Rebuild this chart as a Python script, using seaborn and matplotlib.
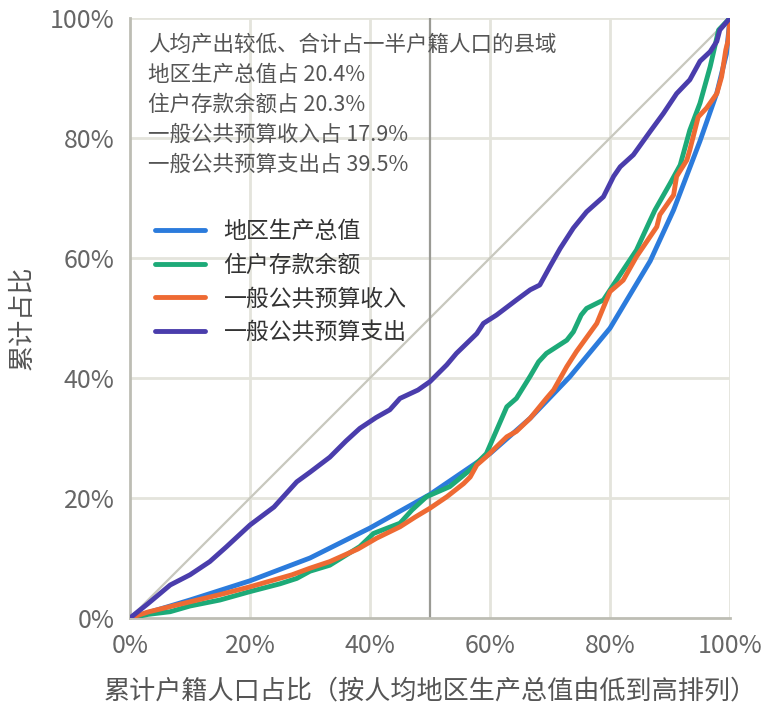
import numpy as np
import pandas as pd
import matplotlib
matplotlib.use("Agg")
import matplotlib.pyplot as plt
import seaborn as sns

# ---------------- data (percent) ----------------
series_names = ["地区生产总值", "住户存款余额", "一般公共预算收入", "一般公共预算支出"]

gdp_x = [0, 6.7, 10, 20, 30, 40, 50, 60, 66.7, 73.3, 80, 86.7, 90.6, 95, 97.8, 99.4, 100]
gdp_y = [0, 2.0, 3.0, 6.2, 10.0, 15.0, 20.6, 27.4, 33.3, 40.2, 48.3, 59.5, 68, 79.5, 87.5, 94.0, 100]

dep_x = [0, 3, 6.7, 10, 15, 20, 25, 27.8, 30, 33.3, 38.3, 40.6, 45, 47, 49.4, 53.3, 56.7, 59.4,
         62.8, 64.4, 66.7, 68.1, 69.4, 72.8, 73.9, 75.2, 76.1, 78.9, 82.2, 84.4, 86.7, 87.5, 90,
         91.7, 93.3, 95, 96.7, 98.1, 100]
dep_y = [0, 0.6, 1.05, 2.0, 3.0, 4.4, 5.7, 6.6, 7.8, 8.8, 11.9, 14.1, 15.8, 18.0, 20.2, 21.9, 24.7, 27.4,
         35.2, 36.6, 40.3, 42.7, 44.1, 46.3, 47.7, 50.5, 51.6, 53.0, 58, 61.3, 66.3, 68, 72.4,
         75.5, 81.3, 85.8, 91.9, 98, 100]

rev_x = [0, 3, 6.7, 10, 15, 20, 27, 30, 33.3, 38, 41.1, 45, 47.5, 50, 52.8, 55.6, 56.7, 57.8, 59.4,
         62.8, 64.4, 66.7, 69.4, 70.6, 72.8, 74.4, 77.8, 80, 82.2, 84.4, 87.8, 88.3, 90.6, 91.1,
         92.8, 93.3, 94.7, 96.1, 97.8, 98.6, 99.3, 99.7, 100]
rev_y = [0, 1.0, 1.9, 2.7, 3.9, 5.2, 7.2, 8.3, 9.4, 11.5, 13.3, 15.2, 16.8, 18.3, 20.2, 22.4, 23.5, 25.5, 26.9,
         30.2, 31.1, 33.3, 36.6, 38, 41.9, 44.4, 49.1, 54.4, 56.3, 60.2, 65.2, 67.2, 70.5, 73.6,
         76.3, 78, 83.5, 85, 87.4, 90.2, 94.7, 96.3, 100]

exp_x = [0, 3, 6.7, 10, 13.3, 16, 20, 24, 27.8, 30, 33.3, 36, 38.3, 41, 43.3, 45, 48, 50, 52.8, 54.4,
         57.8, 58.9, 61.1, 64.4, 66.7, 68.3, 70, 71.7, 73.9, 76.1, 78.9, 80.6, 81.7, 83.9, 86.7,
         88.9, 91.1, 93.3, 95, 96.7, 97.8, 98.3, 100]
exp_y = [0, 2.4, 5.5, 7.2, 9.4, 11.8, 15.5, 18.5, 22.7, 24.3, 26.8, 29.5, 31.6, 33.4, 34.7, 36.6, 38.0, 39.4,
         42.2, 44.1, 47.4, 49.1, 50.5, 53, 54.7, 55.5, 58.6, 61.6, 65, 67.7, 70.2, 73.6, 75.2, 77.2,
         81.1, 84.1, 87.4, 89.7, 92.8, 94.4, 96.1, 98, 100]

annotation_lines = [
    "人均产出较低、合计占一半户籍人口的县域",
    "地区生产总值占 20.4%",
    "住户存款余额占 20.3%",
    "一般公共预算收入占 17.9%",
    "一般公共预算支出占 39.5%",
]
tick_vals = [0, 20, 40, 60, 80, 100]
tick_labels = ["0%", "20%", "40%", "60%", "80%", "100%"]
x_label = "累计户籍人口占比（按人均地区生产总值由低到高排列）"
y_label = "累计占比"

colors = ["#2B7BDC", "#1DAA78", "#EE6A33", "#4A3DAC"]

# ---------------- frame ----------------
frames = []
for name, xs, ys in zip(series_names, [gdp_x, dep_x, rev_x, exp_x], [gdp_y, dep_y, rev_y, exp_y]):
    frames.append(pd.DataFrame({"x": xs, "y": ys, "series": name}))
df = pd.concat(frames, ignore_index=True)

sns.set_theme(style="white")
plt.rcParams["font.family"] = ["Noto Sans CJK SC", "DejaVu Sans"]

fig = plt.figure(figsize=(7.7, 7.1), dpi=100)
ax = fig.add_axes([130 / 770, 1 - 618 / 710, 600 / 770, 600 / 710])

grid_c = "#E4E4DC"
for v in tick_vals[1:]:
    ax.axvline(v, color=grid_c, lw=2, zorder=0)
    ax.axhline(v, color=grid_c, lw=2, zorder=0)

ax.plot([0, 100], [0, 100], color="#C8C8BE", lw=1.6, zorder=1)
ax.axvline(50, color="#9A9A94", lw=1.6, zorder=1)

sns.lineplot(data=df, x="x", y="y", hue="series", hue_order=series_names,
             palette=colors, sort=False, estimator=None, lw=3.5, ax=ax, zorder=3)

ax.set_xlim(0, 100)
ax.set_ylim(0, 100)
ax.set_xticks(tick_vals)
ax.set_xticklabels(tick_labels)
ax.set_yticks(tick_vals)
ax.set_yticklabels(tick_labels)
ax.tick_params(axis="both", labelsize=18, colors="#666666", length=7, width=1.6,
               direction="out", pad=4)
ax.tick_params(axis="both", color="#888888")
for s in ["top", "right"]:
    ax.spines[s].set_visible(False)
for s in ["left", "bottom"]:
    ax.spines[s].set_color("#BDBDB4")
    ax.spines[s].set_linewidth(2)

ax.set_xlabel(x_label, fontsize=18.8, color="#555555", labelpad=13)
ax.set_ylabel(y_label, fontsize=18.8, color="#555555", labelpad=10)

ax.text(0.03, 0.974, "\n".join(annotation_lines), transform=ax.transAxes,
        ha="left", va="top", fontsize=15.5, color="#555555", linespacing=1.48)

leg = ax.legend(loc="upper left", bbox_to_anchor=(0.042, 0.663), frameon=False,
                fontsize=16.5, handlelength=2.18, handletextpad=0.8, labelspacing=0.46,
                borderpad=0, borderaxespad=0)
for t in leg.get_texts():
    t.set_color("#333333")
for l in leg.get_lines():
    l.set_linewidth(3.5)

fig.savefig("out.png", dpi=100)
